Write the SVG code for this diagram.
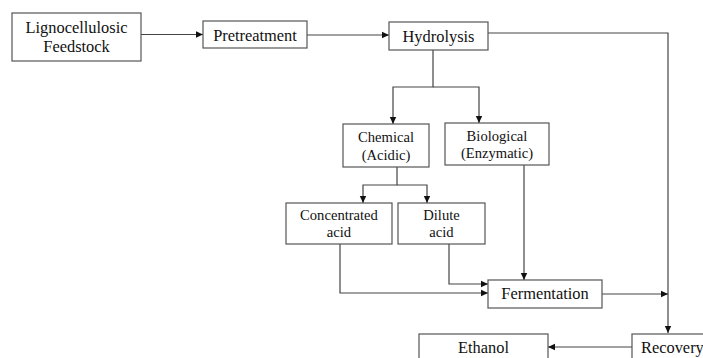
<svg xmlns="http://www.w3.org/2000/svg" width="703" height="358" viewBox="0 0 703 358">
<style>
.box{fill:#fff;stroke:#555;stroke-width:1.2}
.t{font-family:'Liberation Serif','DejaVu Serif',serif;font-size:16.4px;fill:#111;text-anchor:middle}
.s{font-size:14.6px}
.c{fill:none;stroke:#444;stroke-width:1.2}
</style>
<defs>
<marker id="a" markerWidth="8" markerHeight="8" refX="7" refY="4" orient="auto" markerUnits="userSpaceOnUse">
<path d="M0,0.8 L7,4 L0,7.2 Z" fill="#111"/>
</marker>
</defs>
<rect width="703" height="358" fill="#fff"/>
<g id="connectors">
<path class="c" d="M141,34.5 H203" marker-end="url(#a)"/>
<path class="c" d="M307,35 H389" marker-end="url(#a)"/>
<path class="c" d="M488,33 H668 V333" marker-end="url(#a)"/>
<path class="c" d="M433,50 V87 H393 V124" marker-end="url(#a)"/>
<path class="c" d="M433,87 H479 V123" marker-end="url(#a)"/>
<path class="c" d="M397,167 V185 H363 V203" marker-end="url(#a)"/>
<path class="c" d="M397,185 H427 V203" marker-end="url(#a)"/>
<path class="c" d="M340,244 V293 H488" marker-end="url(#a)"/>
<path class="c" d="M449,244 V284 H488" marker-end="url(#a)"/>
<path class="c" d="M524,165 V280" marker-end="url(#a)"/>
<path class="c" d="M602,294 H668" marker-end="url(#a)"/>
<path class="c" d="M632,347 H548" marker-end="url(#a)"/>
</g>
<g id="feedstock"><rect class="box" x="12" y="13" width="129" height="48"/><text class="t" x="76.5" y="33" font-family="Liberation Serif">Lignocellulosic</text><text class="t" x="76.5" y="52">Feedstock</text></g>
<g id="pretreatment"><rect class="box" x="203" y="21" width="104" height="27"/><text class="t" x="255" y="41">Pretreatment</text></g>
<g id="hydrolysis"><rect class="box" x="389" y="22" width="99" height="28"/><text class="t" x="438.5" y="42">Hydrolysis</text></g>
<g id="chemical"><rect class="box" x="343" y="124" width="86" height="43"/><text class="t s" x="386" y="142">Chemical</text><text class="t s" x="386" y="160">(Acidic)</text></g>
<g id="biological"><rect class="box" x="445" y="123" width="104" height="42"/><text class="t s" x="497" y="141">Biological</text><text class="t s" x="497" y="158">(Enzymatic)</text></g>
<g id="concentrated"><rect class="box" x="286" y="203" width="106" height="41"/><text class="t s" x="339" y="220">Concentrated</text><text class="t s" x="339" y="237">acid</text></g>
<g id="dilute"><rect class="box" x="398" y="203" width="87" height="41"/><text class="t s" x="441.5" y="220">Dilute</text><text class="t s" x="441.5" y="237">acid</text></g>
<g id="fermentation"><rect class="box" x="488" y="280" width="114" height="28"/><text class="t" x="545" y="299">Fermentation</text></g>
<g id="recovery"><rect class="box" x="632" y="334" width="80" height="40"/><text class="t" x="641" y="353" style="text-anchor:start">Recovery</text></g>
<g id="ethanol"><rect class="box" x="419" y="334" width="129" height="40"/><text class="t" x="483.5" y="353">Ethanol</text></g>
</svg>
